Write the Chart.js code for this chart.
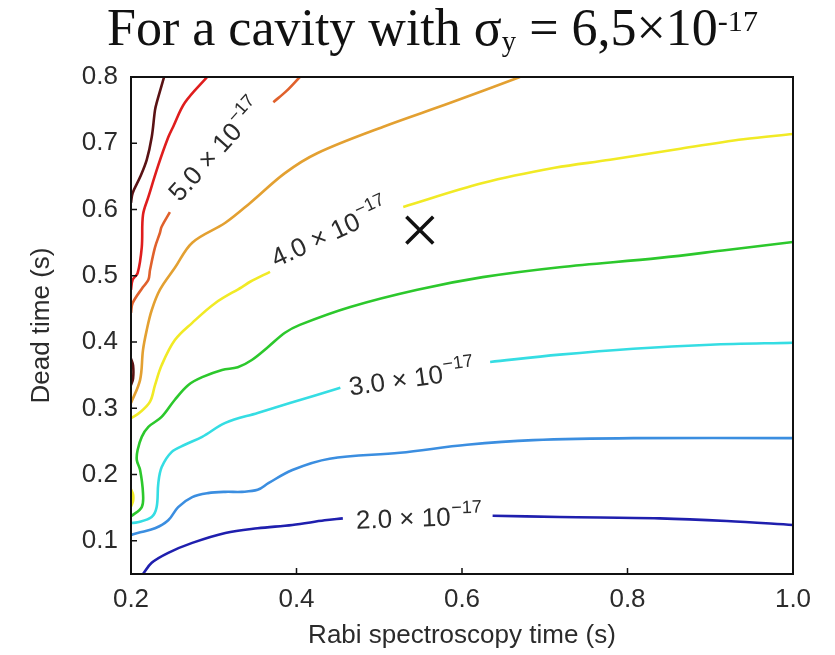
<!DOCTYPE html>
<html>
<head>
<meta charset="utf-8">
<script src="https://cdn.jsdelivr.net/npm/chart.js@4.4.1/dist/chart.umd.min.js"></script>
<style>
  html, body { margin: 0; padding: 0; background: #fff; }
  #wrap { position: relative; width: 835px; height: 655px; overflow: hidden; }
  #c { position: absolute; left: 0; top: 0; }
  #title {
    position: absolute; left: 107px; top: 2px; white-space: nowrap;
    font-family: "Liberation Serif", "Times New Roman", serif; font-size: 52px; line-height: 52px; color: #111;
  }
  #title .sb { font-size: 0.55em; position: relative; top: 0.22em; }
  #title .sp { font-size: 0.58em; position: relative; top: -0.47em; }
</style>
</head>
<body>
<div id="wrap">
  <canvas id="c" width="835" height="655"></canvas>
  <div id="title">For a cavity with σ<span class="sb">y</span> = 6,5×10<span class="sp">-17</span></div>
</div>
<script>
// ---- Axis ticks ----
const xTicks = [0.2, 0.4, 0.6, 0.8, 1.0];
const yTicks = [0.1, 0.2, 0.3, 0.4, 0.5, 0.6, 0.7, 0.8];

// ---- Contour segments (x = Rabi time, y = dead time) ----
// level 2.0e-17
const c20a_x = [0.2145, 0.225, 0.245, 0.274, 0.314, 0.353, 0.395, 0.434, 0.456];
const c20a_y = [0.050, 0.067, 0.082, 0.097, 0.112, 0.119, 0.124, 0.131, 0.134];
const c20b_x = [0.637, 0.718, 0.839, 0.920, 1.0];
const c20b_y = [0.138, 0.136, 0.134, 0.130, 0.124];
// level 2.5e-17
const c25_x = [0.200, 0.208, 0.229, 0.245, 0.257, 0.274, 0.293, 0.314, 0.334, 0.353, 0.366, 0.395, 0.440, 0.525, 0.606, 0.686, 0.807, 1.0];
const c25_y = [0.109, 0.112, 0.119, 0.131, 0.151, 0.166, 0.172, 0.174, 0.174, 0.177, 0.187, 0.207, 0.224, 0.233, 0.245, 0.252, 0.255, 0.255];
// level 3.0e-17
const c30a_x = [0.200, 0.208, 0.225, 0.231, 0.233, 0.237, 0.249, 0.265, 0.286, 0.314, 0.353, 0.392, 0.453];
const c30a_y = [0.127, 0.128, 0.136, 0.151, 0.187, 0.211, 0.234, 0.245, 0.257, 0.278, 0.293, 0.308, 0.331];
const c30b_x = [0.634, 0.718, 0.807, 0.900, 1.0];
const c30b_y = [0.370, 0.381, 0.390, 0.396, 0.399];
// level 3.5e-17
const c35_x = [0.200, 0.213, 0.2145, 0.211, 0.207, 0.208, 0.213, 0.221, 0.237, 0.253, 0.269, 0.286, 0.310, 0.329, 0.346, 0.366, 0.386, 0.404, 0.465, 0.546, 0.625, 0.718, 0.839, 0.920, 1.0];
const c35_y = [0.137, 0.151, 0.172, 0.207, 0.222, 0.237, 0.257, 0.272, 0.287, 0.313, 0.335, 0.347, 0.358, 0.362, 0.373, 0.393, 0.414, 0.426, 0.453, 0.479, 0.498, 0.513, 0.527, 0.539, 0.551];
// level 4.0e-17
const c40a_x = [0.200, 0.211, 0.223, 0.229, 0.237, 0.253, 0.274, 0.302, 0.334, 0.344, 0.368];
const c40a_y = [0.285, 0.294, 0.310, 0.335, 0.365, 0.403, 0.429, 0.459, 0.483, 0.491, 0.506];
const c40b_x = [0.529, 0.625, 0.712, 0.779, 0.860, 0.940, 1.0];
const c40b_y = [0.604, 0.640, 0.663, 0.675, 0.691, 0.706, 0.714];
const c40c_x = [0.200, 0.2025, 0.2025, 0.200];
const c40c_y = [0.178, 0.170, 0.160, 0.152];
// level 4.5e-17
const c45_x = [0.200, 0.211, 0.2145, 0.219, 0.225, 0.235, 0.253, 0.274, 0.314, 0.344, 0.386, 0.425, 0.505, 0.586, 0.670];
const c45_y = [0.308, 0.343, 0.388, 0.418, 0.448, 0.479, 0.512, 0.550, 0.580, 0.610, 0.655, 0.685, 0.725, 0.761, 0.800];
// level 5.0e-17
const c50a_x = [0.200, 0.202, 0.2145, 0.221, 0.223, 0.229, 0.235, 0.237, 0.247];
const c50a_y = [0.444, 0.459, 0.483, 0.494, 0.509, 0.543, 0.565, 0.574, 0.596];
const c50b_x = [0.372, 0.388, 0.404];
const c50b_y = [0.762, 0.779, 0.800];
// level 5.5e-17
const c55_x = [0.200, 0.202, 0.208, 0.213, 0.2145, 0.221, 0.233, 0.245, 0.251, 0.265, 0.292];
const c55_y = [0.479, 0.494, 0.504, 0.543, 0.592, 0.619, 0.667, 0.709, 0.725, 0.761, 0.800];
// level 6.0e-17
const c60a_x = [0.200, 0.202, 0.211, 0.219, 0.225, 0.229, 0.231, 0.240];
const c60a_y = [0.610, 0.625, 0.649, 0.675, 0.709, 0.750, 0.761, 0.800];
const c60b_x = [0.200, 0.2025, 0.2025, 0.200];
const c60b_y = [0.375, 0.365, 0.345, 0.335];

// ---- Contour labels ----
const labelText = ['5.0', '4.0', '3.0', '2.0'];
const labelX = [0.302, 0.440, 0.539, 0.548];
const labelY = [0.690, 0.565, 0.346, 0.135];
const labelAngle = [-48, -25, -8, -2];

// ---- Marker (×) ----
const markX = [0.549];
const markY = [0.569];

// ---- Styles ----
const levelColor = {
  '2.0': '#1f1fae', '2.5': '#3b8ee0', '3.0': '#35dde3', '3.5': '#2cc82c',
  '4.0': '#f1ea25', '4.5': '#e3a031', '5.0': '#e0612c', '5.5': '#df1d1d', '6.0': '#5a1214'
};
const segments = [
  ['2.0', c20a_x, c20a_y], ['2.0', c20b_x, c20b_y],
  ['2.5', c25_x, c25_y],
  ['3.0', c30a_x, c30a_y], ['3.0', c30b_x, c30b_y],
  ['3.5', c35_x, c35_y],
  ['4.0', c40a_x, c40a_y], ['4.0', c40b_x, c40b_y], ['4.0', c40c_x, c40c_y],
  ['4.5', c45_x, c45_y],
  ['5.0', c50a_x, c50a_y], ['5.0', c50b_x, c50b_y],
  ['5.5', c55_x, c55_y],
  ['6.0', c60a_x, c60a_y], ['6.0', c60b_x, c60b_y]
];
const zip = (xs, ys) => xs.map((x, i) => ({ x: x, y: ys[i] }));

const datasets = segments.map(([lvl, xs, ys]) => ({
  label: lvl + ' × 10⁻¹⁷',
  data: zip(xs, ys),
  showLine: true,
  borderColor: levelColor[lvl],
  backgroundColor: levelColor[lvl],
  borderWidth: 2.6,
  pointRadius: 0,
  pointHoverRadius: 0,
  tension: 0.35,
  fill: false
}));
datasets.push({
  label: 'cavity',
  data: zip(markX, markY),
  showLine: false,
  pointStyle: 'crossRot',
  pointRadius: 19,
  pointHoverRadius: 19,
  borderColor: '#111',
  backgroundColor: '#111',
  borderWidth: 3.5
});

const SANS = '"Liberation Sans", Arial, Helvetica, sans-serif';

const framePlugin = {
  id: 'frame',
  afterDatasetsDraw(chart) {
    const { ctx, chartArea: a, scales } = chart;
    ctx.save();
    // contour labels
    for (let i = 0; i < labelText.length; i++) {
      const px = scales.x.getPixelForValue(labelX[i]);
      const py = scales.y.getPixelForValue(labelY[i]);
      ctx.save();
      ctx.translate(px, py);
      ctx.rotate(labelAngle[i] * Math.PI / 180);
      const main = labelText[i] + ' \u00d7 10';
      const sup = '\u221217';
      ctx.font = '26px ' + SANS;
      const w1 = ctx.measureText(main).width;
      ctx.font = '18px ' + SANS;
      const w2 = ctx.measureText(sup).width;
      const total = w1 + 1 + w2;
      ctx.fillStyle = '#2b2b2b';
      ctx.textAlign = 'left';
      ctx.textBaseline = 'alphabetic';
      ctx.font = '26px ' + SANS;
      ctx.fillText(main, -total / 2, 9);
      ctx.font = '18px ' + SANS;
      ctx.fillText(sup, -total / 2 + w1 + 1, -3);
      ctx.restore();
    }
    // box
    ctx.strokeStyle = '#111';
    ctx.lineWidth = 2;
    ctx.strokeRect(a.left, a.top, a.right - a.left, a.bottom - a.top);
    // inward ticks
    ctx.lineWidth = 1.5;
    ctx.beginPath();
    xTicks.forEach(v => {
      const p = scales.x.getPixelForValue(v);
      ctx.moveTo(p, a.bottom); ctx.lineTo(p, a.bottom - 6);
    });
    yTicks.forEach(v => {
      const p = scales.y.getPixelForValue(v);
      ctx.moveTo(a.left, p); ctx.lineTo(a.left + 6, p);
    });
    ctx.stroke();
    ctx.restore();
  }
};

new Chart(document.getElementById('c'), {
  type: 'scatter',
  data: { datasets: datasets },
  options: {
    responsive: false,
    animation: false,
    events: [],
    layout: { padding: { top: 77, right: 42, left: 0, bottom: 0 } },
    plugins: { legend: { display: false }, tooltip: { enabled: false }, title: { display: false } },
    scales: {
      x: {
        type: 'linear', min: 0.2, max: 1.0,
        afterBuildTicks: s => { s.ticks = xTicks.map(v => ({ value: v })); },
        afterFit: s => { s.height = 81; },
        grid: { display: false, drawTicks: false },
        border: { display: false },
        ticks: { padding: 10, color: '#2b2b2b', font: { family: SANS, size: 26 }, callback: v => v.toFixed(1), maxRotation: 0, autoSkip: false },
        title: { display: true, text: 'Rabi spectroscopy time (s)', color: '#2b2b2b', font: { family: SANS, size: 26 }, padding: { top: 0, bottom: 4 } }
      },
      y: {
        type: 'linear', min: 0.05, max: 0.8,
        afterBuildTicks: s => { s.ticks = yTicks.map(v => ({ value: v })); },
        afterFit: s => { s.width = 131; },
        grid: { display: false, drawTicks: false },
        border: { display: false },
        ticks: { padding: 13, color: '#2b2b2b', font: { family: SANS, size: 26 }, callback: v => v.toFixed(1), autoSkip: false },
        title: { display: true, text: 'Dead time (s)', color: '#2b2b2b', font: { family: SANS, size: 26 }, padding: { top: 26, bottom: 0 } }
      }
    }
  },
  plugins: [framePlugin]
});
</script>
</body>
</html>
